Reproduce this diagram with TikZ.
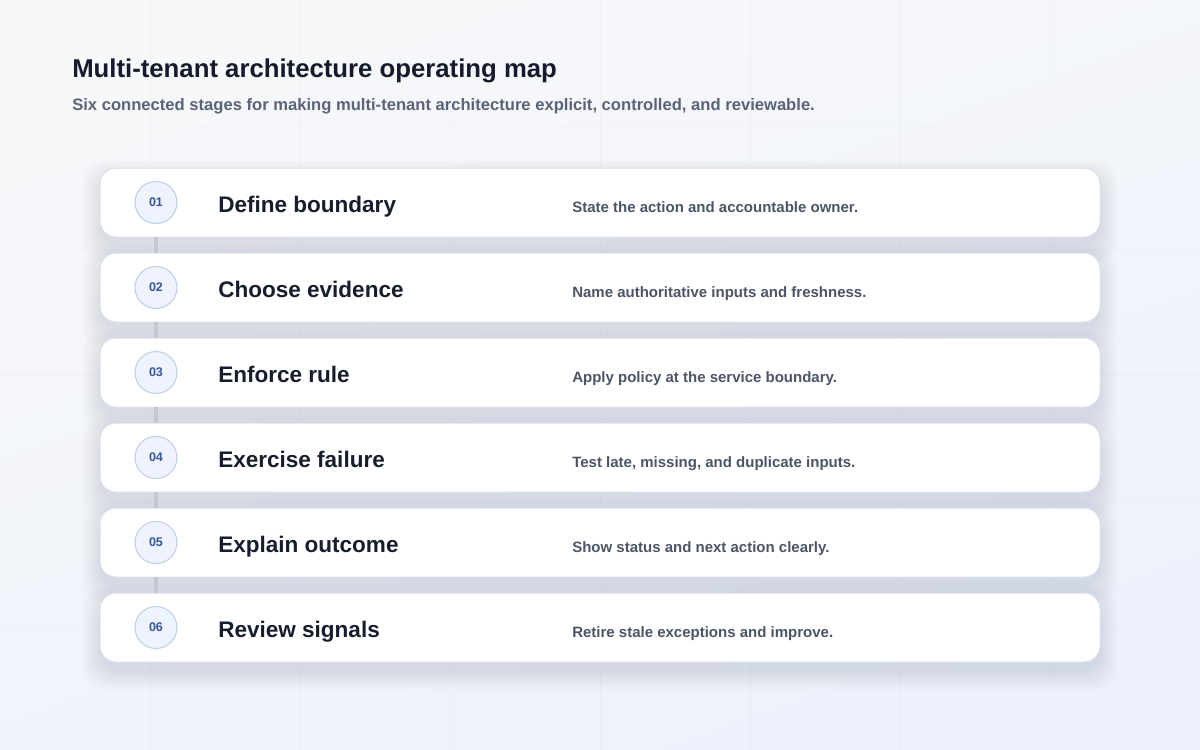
\documentclass[tikz,border=0pt]{standalone}
\usepackage{fontspec}
\setmainfont{Liberation Sans}
\definecolor{bgtop}{HTML}{F7F8FA}
\definecolor{bgbot}{HTML}{ECF1FB}
\definecolor{titlec}{HTML}{141B2D}
\definecolor{subc}{HTML}{5A6478}
\definecolor{cardtc}{HTML}{161D2C}
\definecolor{descc}{HTML}{4B5567}
\definecolor{cardborder}{HTML}{D9E0EC}
\definecolor{shadowc}{HTML}{34446A}
\definecolor{badgefill}{HTML}{EEF3FD}
\definecolor{badgeline}{HTML}{BCCDE9}
\definecolor{badgetext}{HTML}{34569A}
\definecolor{linkc}{HTML}{C4C8D0}
\tikzset{
  cardbox/.style={fill=white, draw=cardborder, line width=0.75pt, rounded corners=12pt},
  badge/.style={circle, minimum size=31.5pt, inner sep=0pt, fill=badgefill, draw=badgeline, line width=0.75pt,
    text=badgetext, font=\fontsize{9.4}{11}\selectfont\bfseries},
  stagetitle/.style={anchor=base west, inner sep=0pt, text=cardtc, font=\fontsize{16.9}{20}\selectfont\bfseries},
  stagedesc/.style={anchor=base west, inner sep=0pt, text=descc, font=\fontsize{11.25}{14}\selectfont\bfseries},
  linkline/.style={draw=linkc, line width=3pt}
}
\begin{document}
\begin{tikzpicture}[x=0.75pt,y=-0.75pt]
\useasboundingbox (0,0) rectangle (1200,750);
% background
\shade[top color=bgtop, bottom color=bgbot, shading angle=20] (0,0) rectangle (1200,750);
% faint grid
\foreach \gx in {150,300,...,1050} \draw[shadowc, opacity=0.022, line width=0.75pt] (\gx,0) -- (\gx,750);
\foreach \gy in {125,250,...,625} \draw[shadowc, opacity=0.022, line width=0.75pt] (0,\gy) -- (1200,\gy);
% heading
\node[anchor=base west, inner sep=0pt, text=titlec, font=\fontsize{19.3}{23}\selectfont\bfseries] (title) at (72,77) {Multi-tenant architecture operating map};
\node[anchor=base west, inner sep=0pt, text=subc, font=\fontsize{12.45}{15}\selectfont\bfseries] (subtitle) at (72,110) {Six connected stages for making multi-tenant architecture explicit, controlled, and reviewable.};
% shadows
\foreach \k in {0,...,5} {
  \pgfmathsetmacro{\ytop}{168+85*\k}
  \foreach \e in {0,1.5,...,18} {
    \fill[shadowc, opacity=0.008, rounded corners=16pt] (100-\e,\ytop+10-\e) rectangle (1100+\e,\ytop+69+10+\e);
  }
}
% cards
\foreach \k/\num/\ttl/\dsc in {
  0/01/Define boundary/State the action and accountable owner.,
  1/02/Choose evidence/Name authoritative inputs and freshness.,
  2/03/Enforce rule/Apply policy at the service boundary.,
  3/04/Exercise failure/{Test late, missing, and duplicate inputs.},
  4/05/Explain outcome/Show status and next action clearly.,
  5/06/Review signals/Retire stale exceptions and improve.} {
  \pgfmathsetmacro{\ytop}{168+85*\k}
  \pgfmathsetmacro{\yc}{\ytop+34.5}
  \draw[cardbox] (100,\ytop) rectangle (1100,\ytop+69);
  \node[badge] (b\num) at (156,\yc) {\raisebox{-0.9pt}{\num}};
  \node[stagetitle] (t\num) at (218,\yc+9.5) {\ttl};
  \node[stagedesc] (d\num) at (572,\yc+9.5) {\dsc};
  \coordinate (top\num) at (156,\ytop);
  \coordinate (bot\num) at (156,\ytop+69);
}
% connectors
\foreach \a/\b in {01/02,02/03,03/04,04/05,05/06}
  \path[linkline] (bot\a) -- (top\b);
\end{tikzpicture}
\end{document}
